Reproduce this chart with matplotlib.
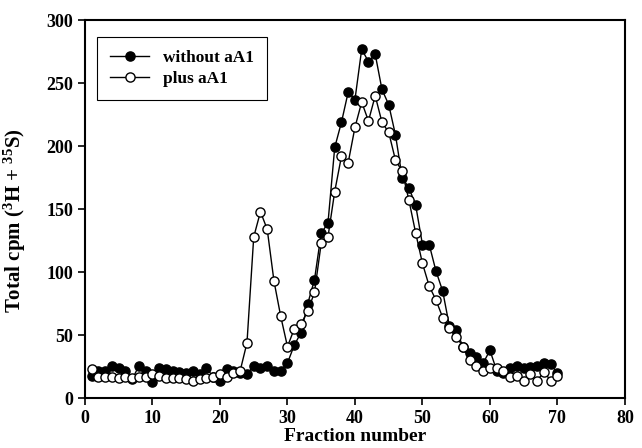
import matplotlib
matplotlib.use('Agg')
import matplotlib.pyplot as plt

plt.rcParams['font.family'] = ['Liberation Serif', 'DejaVu Serif']
plt.rcParams['font.weight'] = 'bold'
plt.rcParams['mathtext.fontset'] = 'custom'
plt.rcParams['mathtext.rm'] = 'Liberation Serif:bold'
plt.rcParams['mathtext.bf'] = 'Liberation Serif:bold'
plt.rcParams['mathtext.default'] = 'bf'

fraction = list(range(1, 71))

# without aA1 (filled)
without_aA1 = [18, 22, 22, 26, 24, 22, 15, 26, 22, 13,
               24, 23, 22, 21, 20, 22, 19, 24, 17, 14,
               23, 22, 20, 19, 26, 24, 26, 22, 22, 28,
               42, 52, 75, 94, 131, 139, 199, 219, 243, 237,
               277, 267, 273, 245, 233, 209, 175, 167, 153, 122,
               122, 101, 85, 57, 54, 41, 36, 33, 28, 38,
               22, 20, 24, 26, 24, 25, 26, 28, 27, 20]

# plus aA1 (open)
plus_aA1 = [23, 17, 17, 17, 16, 17, 16, 17, 17, 19,
            18, 16, 16, 16, 15, 14, 15, 16, 17, 19,
            17, 20, 22, 44, 128, 148, 134, 93, 65, 41,
            55, 59, 69, 84, 123, 128, 164, 192, 187, 215,
            235, 220, 240, 219, 211, 189, 180, 157, 131, 107,
            89, 78, 64, 56, 49, 41, 30, 26, 22, 24,
            24, 22, 17, 18, 14, 19, 14, 21, 14, 18]

fig = plt.figure(figsize=(6.42, 4.48), dpi=100)
ax = fig.add_axes([0.1324, 0.111, 0.841, 0.844])

ax.plot(fraction, without_aA1, '-o', color='black', lw=1.0, ms=6.6,
        mfc='black', mec='black', label='without aA1', zorder=3)
ax.plot(fraction, plus_aA1, '-o', color='black', lw=1.0, ms=6.6,
        mfc='white', mec='black', mew=1.0, label='plus aA1', zorder=4)

ax.set_xlim(0, 80)
ax.set_ylim(0, 300)
ax.set_xticks(range(0, 81, 10))
ax.set_yticks(range(0, 301, 50))
ax.tick_params(direction='out', length=5, width=1.2, labelsize=13)
for lab in ax.get_xticklabels() + ax.get_yticklabels():
    lab.set_fontweight('bold')
for s in ax.spines.values():
    s.set_linewidth(1.5)

ax.set_xlabel('Fraction number', fontsize=14, fontweight='bold', labelpad=1)
ax.set_ylabel('Total cpm ($^{3}$H + $^{35}$S)', fontsize=15, fontweight='bold')
ax.yaxis.set_label_coords(-0.105, 0.47)

leg = ax.legend(loc='upper left', bbox_to_anchor=(0.022, 0.955), borderaxespad=0,
                fancybox=False, edgecolor='black', framealpha=1,
                prop={'weight': 'bold', 'size': 12.4}, handlelength=2.3,
                borderpad=0.75, labelspacing=0.3)
leg.get_frame().set_linewidth(0.8)

fig.savefig('out.png', dpi=100)
